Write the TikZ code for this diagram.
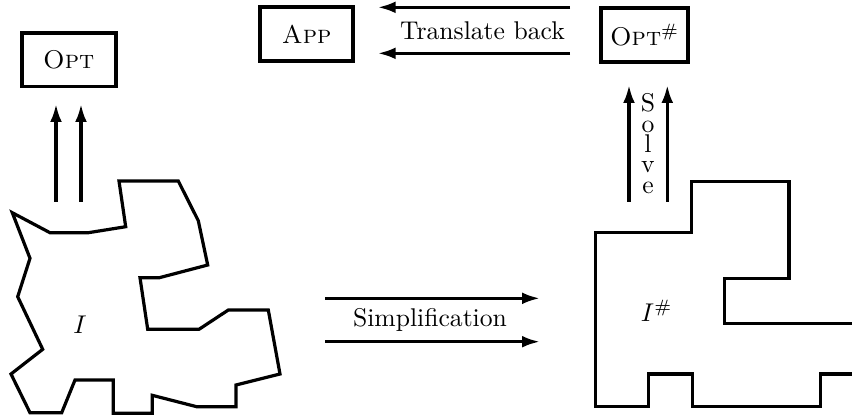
\documentclass[tikz,border=0pt]{standalone}
\usetikzlibrary{arrows.meta}
\begin{document}
\begin{tikzpicture}[x=0.39pt,y=-0.39pt,
  box/.style={draw,line width=1.5pt,inner sep=0pt,minimum height=21pt},
  poly/.style={line width=1.25pt,line join=miter},
  arr/.style={line width=1.25pt,-{Latex[length=7pt,width=4.6pt]}},
  lbl/.style={inner sep=0pt},
  ltr/.style={inner sep=0pt,anchor=base}]
\useasboundingbox (0,0) rectangle (852,415);
% boxes
\node[box,minimum width=36.7pt] (opt) at (68.8,59.5) {\textsc{Opt}};
\node[box,minimum width=36.4pt] (app) at (306.7,34.2) {\textsc{App}};
\node[box,minimum width=34pt] (opts) at (644.7,35) {\textsc{Opt}$^{\#}$};
% left polygon
\draw[poly] (119,181) -- (178.3,181) -- (198.3,220.7) -- (207.7,265) -- (159.3,277.7)
  -- (140,277.7) -- (147.7,329.3) -- (199,329.3) -- (228.3,310) -- (268.3,310)
  -- (280,374) -- (236,385) -- (236,406.7) -- (196.7,406.7) -- (152.3,395.3)
  -- (152.3,413.3) -- (113.3,413.3) -- (113.3,380) -- (75,380) -- (61.7,412.7)
  -- (30,412.7) -- (11,374) -- (42.7,349.3) -- (17.7,296.7) -- (30,258.3)
  -- (12.3,212.7) -- (50,232.7) -- (88.3,232.7) -- (125.7,226.7) -- cycle;
\node[lbl] (I) at (80,325) {$I$};
% right polygon
\draw[poly] (852,374) -- (820.7,374) -- (820.7,406.7) -- (692.3,406.7) -- (692.3,374)
  -- (648.3,374) -- (648.3,406.7) -- (595.7,406.7) -- (595.7,232.7) -- (691.7,232.7)
  -- (691.7,181.7) -- (789,181.7) -- (789,278.3) -- (724.3,278.3) -- (724.3,323.3)
  -- (852,323.3);
\node[lbl] (Is) at (656.7,311) {$I^{\#}$};
% arrows Opt
\coordinate (a1) at (56,201.7);
\coordinate (a2) at (81,201.7);
\coordinate (a1e) at (56,104);
\coordinate (a2e) at (81,104);
\draw[arr] (a1) -- (a1e);
\draw[arr] (a2) -- (a2e);
% translate back
\coordinate (t1) at (570,7.3);
\coordinate (t2) at (570,53.3);
\coordinate (t1e) at (377.7,7.3);
\coordinate (t2e) at (377.7,53.3);
\draw[arr] (t1) -- (t1e);
\draw[arr] (t2) -- (t2e);
\node[lbl] (tb) at (482.5,31) {Translate back};
% solve
\coordinate (s1) at (629,201.7);
\coordinate (s2) at (667.3,201.7);
\coordinate (s1e) at (629,85);
\coordinate (s2e) at (667.3,85);
\draw[arr] (s1) -- (s1e);
\draw[arr] (s2) -- (s2e);
\node[ltr] (sv1) at (648,111.7) {S};
\node[ltr] (sv2) at (648,132.1) {o};
\node[ltr] (sv3) at (648,152.5) {l};
\node[ltr] (sv4) at (648,172.9) {v};
\node[ltr] (sv5) at (648,193.3) {e};
% simplification
\coordinate (p1) at (325,298.3);
\coordinate (p2) at (325,341.7);
\coordinate (p1e) at (540,298.3);
\coordinate (p2e) at (540,341.7);
\draw[arr] (p1) -- (p1e);
\draw[arr] (p2) -- (p2e);
\node[lbl] (simp) at (430,320) {Simplification};
\end{tikzpicture}
\end{document}
